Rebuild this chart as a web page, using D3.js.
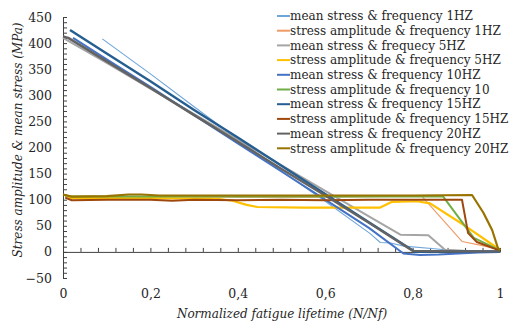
<!DOCTYPE html>
<html>
<head>
<meta charset="utf-8">
<script src="https://cdn.jsdelivr.net/npm/d3@7"></script>
<style>
  body { margin: 0; background: #fff; }
  svg { display: block; }
  text { font-family: "DejaVu Serif", serif; fill: #262626; }
</style>
</head>
<body>
<div id="chart"></div>
<script>
// series, [N/Nf, MPa]
var mean1 = [[0.09,408],[0.2,341],[0.3,278],[0.4,216],[0.5,155],[0.6,97],[0.703,35],[0.726,18],[0.75,17],[0.78,11],[0.85,6],[0.9,2],[1,0]]
var amp1 = [[0.005,108],[0.02,105],[0.2,106],[0.4,105],[0.6,105],[0.75,106],[0.822,106],[0.913,20],[0.96,12],[1,4]]
var mean5 = [[0,410],[0.1,362],[0.2,313],[0.3,264],[0.4,215],[0.5,166],[0.6,117],[0.7,68],[0.772,33],[0.836,32],[0.874,4],[0.95,1],[1,0]]
var amp5 = [[0.005,108],[0.02,103],[0.2,103],[0.35,102],[0.388,98],[0.42,90],[0.445,86],[0.55,85],[0.726,85],[0.753,96],[0.81,97],[0.84,93],[0.92,50],[0.993,8],[1,4]]
var mean10 = [[0.023,410],[0.1,369],[0.2,316],[0.3,262],[0.4,208],[0.5,154],[0.6,100],[0.7,46],[0.779,-3],[0.817,-6],[0.86,-5],[0.95,-1],[1,0]]
var amp10 = [[0.005,108],[0.02,106],[0.2,106],[0.4,106],[0.6,106],[0.8,106],[0.87,106],[0.94,27],[1,3]]
var mean15 = [[0.016,425],[0.1,380],[0.2,327],[0.3,272],[0.4,219],[0.5,165],[0.6,111],[0.7,57],[0.806,0],[0.9,1],[1,1]]
var amp15 = [[0.005,104],[0.02,99],[0.1,100],[0.2,100],[0.25,98],[0.3,100],[0.4,99],[0.5,100],[0.6,99],[0.7,100],[0.8,100],[0.913,100],[0.927,36],[0.947,19],[0.995,4],[1,4]]
var mean20 = [[0,413],[0.012,410],[0.1,365],[0.2,314],[0.3,262],[0.4,211],[0.5,159],[0.6,108],[0.7,56],[0.8,2],[0.9,1],[1,1]]
var amp20 = [[0,110],[0.02,106],[0.1,107],[0.15,110],[0.18,110],[0.22,108],[0.4,108],[0.6,108],[0.8,108],[0.936,109],[0.962,75],[0.982,42],[0.995,8],[1,3]]

var seriesNames = ["mean stress & frequency 1HZ", "stress amplitude & frequency 1HZ",
  "mean stress & frequecy 5HZ", "stress amplitude & frequency 5HZ",
  "mean stress & frequency 10HZ", "stress amplitude & frequency 10",
  "mean stress & frequency 15HZ", "stress amplitude & frequency 15HZ",
  "mean stress & frequency 20HZ", "stress amplitude & frequency 20HZ"]
var seriesData = [mean1, amp1, mean5, amp5, mean10, amp10, mean15, amp15, mean20, amp20]
var seriesColors = ["#6fa6da", "#f09a64", "#a5a5a5", "#ffc000", "#4472c4", "#70ad47", "#255e91", "#9e480e", "#636363", "#997300"]
var seriesWidths = [1.1, 1.1, 2, 2.2, 2, 2, 2.4, 2, 2.4, 2.2]

var xTicks = [0, 0.2, 0.4, 0.6, 0.8, 1]
var xTickLabels = ["0", "0,2", "0,4", "0,6", "0,8", "1"]
var yTicks = [-50, 0, 50, 100, 150, 200, 250, 300, 350, 400, 450]

var width = 509, height = 324

var x = d3.scaleLinear([0, 1], [63, 500])
var y = d3.scaleLinear([-50, 450], [278, 17])

var svg = d3.select("#chart").append("svg")
    .attr("width", width)
    .attr("height", height)

// y axis: minor ticks every 10 pointing inside
svg.append("g")
    .attr("transform", "translate(" + x(0) + ",0)")
    .call(d3.axisLeft(y).tickValues(d3.range(-50, 451, 10)).tickSizeInner(-4).tickSizeOuter(0).tickFormat(""))
    .call(g => g.selectAll("line, path").attr("stroke", "#404040"))

svg.append("g")
    .attr("transform", "translate(" + x(0) + ",0)")
    .call(d3.axisLeft(y).tickValues(yTicks).tickSize(0).tickPadding(11))
    .call(g => g.select(".domain").remove())
    .call(g => g.selectAll("text").style("font-family", "DejaVu Serif").style("font-size", "12.5px").attr("fill", "#262626"))

// x axis line at y = 0 with ticks every 0.04 pointing up
svg.append("g")
    .attr("transform", "translate(0," + y(0) + ")")
    .call(d3.axisBottom(x).tickValues(d3.range(0, 1.001, 0.04)).tickSizeInner(-4).tickSizeOuter(0).tickFormat(""))
    .call(g => g.selectAll("line, path").attr("stroke", "#404040"))

svg.append("g")
    .attr("transform", "translate(0," + (y(-50) + 8) + ")")
    .call(d3.axisBottom(x).tickValues(xTicks).tickSize(0).tickFormat((d, i) => xTickLabels[i]))
    .call(g => g.select(".domain").remove())
    .call(g => g.selectAll("text").style("font-family", "DejaVu Serif").style("font-size", "12.5px").attr("fill", "#262626"))

// lines
var line = d3.line().x(d => x(d[0])).y(d => y(d[1]))
svg.append("g")
    .selectAll("path")
    .data(seriesData)
    .join("path")
    .attr("d", line)
    .attr("fill", "none")
    .attr("stroke", (d, i) => seriesColors[i])
    .attr("stroke-width", (d, i) => seriesWidths[i])
    .attr("stroke-linejoin", "round")

// axis titles
svg.append("text")
    .attr("x", 282).attr("y", 318)
    .attr("text-anchor", "middle")
    .style("font-style", "italic").style("font-size", "12px")
    .text("Normalized fatigue lifetime (N/Nf)")

svg.append("text")
    .attr("transform", "translate(22,140) rotate(-90)")
    .attr("text-anchor", "middle")
    .style("font-style", "italic").style("font-size", "12px")
    .text("Stress amplitude & mean stress (MPa)")

// legend
var legend = svg.append("g")
var rows = legend.selectAll("g")
    .data(seriesNames)
    .join("g")
    .attr("transform", (d, i) => "translate(277," + (16 + i * 14.7) + ")")
rows.append("line")
    .attr("x1", 0).attr("x2", 13)
    .attr("stroke", (d, i) => seriesColors[i])
    .attr("stroke-width", 2)
rows.append("text")
    .attr("x", 13).attr("dy", "0.35em")
    .style("font-size", "12px")
    .text(d => d)
</script>
</body>
</html>
